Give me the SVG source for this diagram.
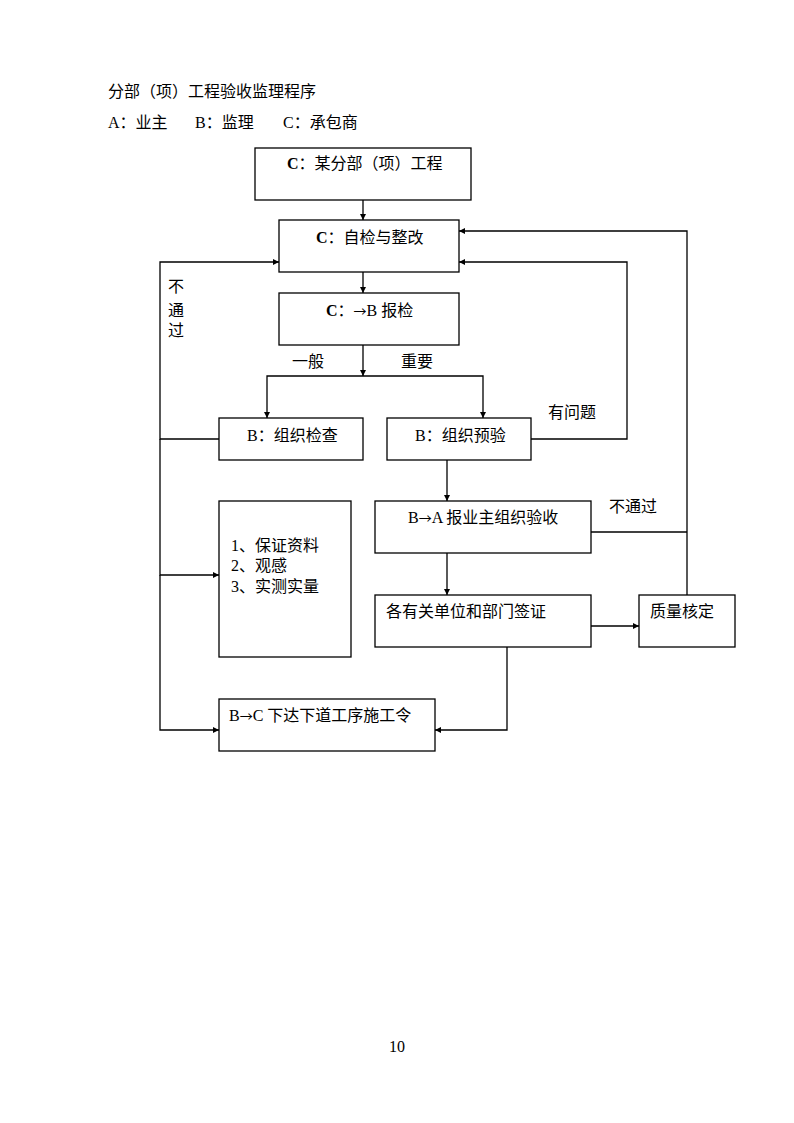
<svg xmlns="http://www.w3.org/2000/svg" width="794" height="1123" viewBox="0 0 794 1123">
<style>
text{font-family:"Liberation Serif","Noto Sans CJK SC",serif;font-size:16px;fill:#000}
.ar{font-family:"Noto Sans CJK SC",sans-serif;font-size:13px}
.b{fill:#fff;stroke:#000;stroke-width:1.3}
.c{fill:none;stroke:#000;stroke-width:1.3}
</style>
<defs>
<marker id="a" viewBox="0 0 8 8" refX="8" refY="4" markerWidth="6" markerHeight="6" markerUnits="userSpaceOnUse" orient="auto"><path d="M0,0L8,4L0,8z" fill="#000"/></marker>
</defs>
<rect width="794" height="1123" fill="#fff"/>
<text x="108" y="97">分部（项）工程验收监理程序</text>
<text x="108" y="128">A：业主</text>
<text x="195" y="128">B：监理</text>
<text x="283" y="128">C：承包商</text>
<g id="connectors">
<path class="c" d="M363,200V220" marker-end="url(#a)"/>
<path class="c" d="M363,272V293" marker-end="url(#a)"/>
<path class="c" d="M363,345V376" marker-end="url(#a)"/>
<path class="c" d="M363,376H267V418" marker-end="url(#a)"/>
<path class="c" d="M363,376H483V418" marker-end="url(#a)"/>
<path class="c" d="M531,439H627V262H459" marker-end="url(#a)"/>
<path class="c" d="M687,595V231H459" marker-end="url(#a)"/>
<path class="c" d="M591,532H687"/>
<path class="c" d="M219,439H160V262H279" marker-end="url(#a)"/>
<path class="c" d="M160,439V575H219" marker-end="url(#a)"/>
<path class="c" d="M160,575V730H219" marker-end="url(#a)"/>
<path class="c" d="M447,460V501" marker-end="url(#a)"/>
<path class="c" d="M447,553V595" marker-end="url(#a)"/>
<path class="c" d="M591,626H639" marker-end="url(#a)"/>
<path class="c" d="M507,647V730H435" marker-end="url(#a)"/>
<text x="292" y="367">一般</text>
<text x="401" y="367">重要</text>
<text x="548" y="418">有问题</text>
<text x="609" y="512">不通过</text>
<text x="168" y="292">不</text>
<text x="168" y="316">通</text>
<text x="168" y="336">过</text>
</g>
<g id="n1"><rect class="b" x="255" y="148" width="216" height="52"/><text x="287" y="169"><tspan font-weight="bold">C</tspan>：某分部（项）工程</text></g>
<g id="n2"><rect class="b" x="279" y="220" width="180" height="52"/><text x="316" y="243"><tspan font-weight="bold">C</tspan>：自检与整改</text></g>
<g id="n3"><rect class="b" x="279" y="293" width="180" height="52"/><text x="326" y="316"><tspan font-weight="bold">C</tspan>：<tspan class="ar">→</tspan>B 报检</text></g>
<g id="n4"><rect class="b" x="219" y="418" width="144" height="42"/><text x="247" y="441">B：组织检查</text></g>
<g id="n5"><rect class="b" x="387" y="418" width="144" height="42"/><text x="415" y="441">B：组织预验</text></g>
<g id="n6"><rect class="b" x="219" y="501" width="132" height="156"/><text x="231" y="551">1、保证资料</text><text x="231" y="571">2、观感</text><text x="231" y="592">3、实测实量</text></g>
<g id="n7"><rect class="b" x="375" y="501" width="216" height="52"/><text x="408" y="523">B<tspan class="ar">→</tspan>A 报业主组织验收</text></g>
<g id="n8"><rect class="b" x="375" y="595" width="216" height="52"/><text x="386" y="617">各有关单位和部门签证</text></g>
<g id="n9"><rect class="b" x="639" y="595" width="96" height="52"/><text x="650" y="617">质量核定</text></g>
<g id="n10"><rect class="b" x="219" y="699" width="216" height="52"/><text x="229" y="721">B<tspan class="ar">→</tspan>C 下达下道工序施工令</text></g>
<text x="397" y="1052" font-size="11" text-anchor="middle">10</text>
</svg>
